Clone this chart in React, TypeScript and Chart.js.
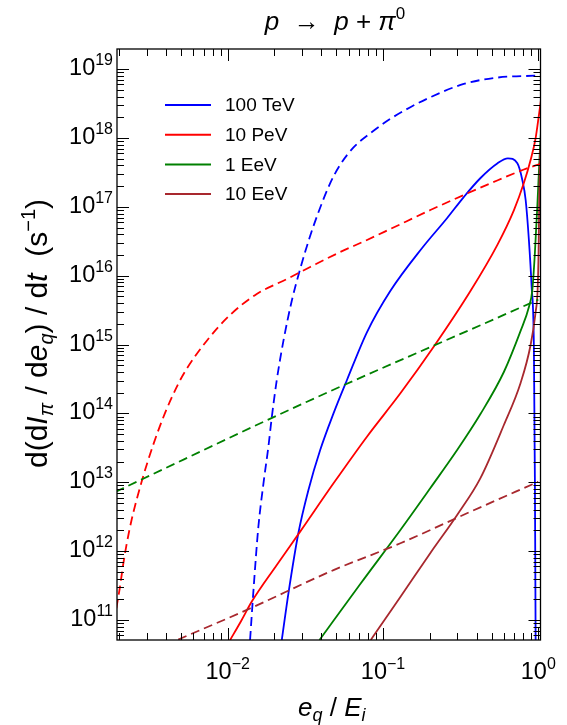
import React, { useEffect, useRef } from "react";
import { Chart, registerables } from "chart.js";

Chart.register(...registerables);

// ---------- data ----------
const seriesLabels = ["100 TeV", "10 PeV", "1 EeV", "10 EeV"];
const seriesColors = ["#0000FF", "#FF0000", "#008000", "#A8282E"];

// 100 TeV
const xTeVSolid = [0.0223, 0.0246, 0.0285, 0.0331, 0.0394, 0.048, 0.0586, 0.0789, 0.1114, 0.1786, 0.259, 0.331, 0.4246, 0.544, 0.637, 0.733, 0.789, 0.829, 0.8697, 0.905, 0.937, 0.9506, 0.961];
const yTeVSolid = [5.13e10, 2.44e11, 1.82e12, 7.73e12, 2.94e13, 1.0e14, 3.06e14, 1.52e15, 6.0e15, 2.53e16, 6.9e16, 1.39e17, 2.63e17, 4.27e17, 5.08e17, 4.3e17, 2.46e17, 1.26e17, 3.3e16, 7.1e15, 8.3e14, 1.07e13, 5.13e10];
const xTeVDash = [0.01393, 0.01478, 0.01575, 0.01697, 0.01828, 0.01923, 0.0207, 0.02284, 0.02588, 0.02958, 0.03361, 0.0384, 0.04571, 0.05302, 0.06459, 0.08278, 0.1115, 0.15, 0.2019, 0.3311, 0.5438, 0.985, 1.0];
const yTeVDash = [5.13e10, 3.56e11, 2.24e12, 9.44e12, 3.29e13, 8.87e13, 3.06e14, 1.13e15, 4.37e15, 1.36e16, 3.53e16, 8.37e16, 2.21e17, 4.1e17, 7.31e17, 1.175e18, 1.9e18, 2.81e18, 3.92e18, 6.11e18, 7.55e18, 8.07e18, 8.08e18];

// 10 PeV
const xPeVSolid = [0.01035, 0.0121, 0.01429, 0.0207, 0.02927, 0.048, 0.0788, 0.1294, 0.212, 0.3656, 0.544, 0.697, 0.807, 0.892, 0.961, 1.009, 1.05];
const yPeVSolid = [5.1e10, 9.35e10, 1.85e11, 6.3e11, 1.92e12, 9.66e12, 4.6e13, 1.96e14, 9.3e14, 6.0e15, 2.79e16, 9.0e16, 2.22e17, 4.8e17, 1.0e18, 2.16e18, 4.2e18];
const xPeVDash = [0.00182, 0.00192, 0.002019, 0.002121, 0.00223, 0.002404, 0.002787, 0.003311, 0.003939, 0.004797, 0.005437, 0.007317, 0.01035, 0.01538, 0.02404, 0.03398, 0.05302, 0.07499, 0.1114, 0.2018, 0.3311, 0.5438, 0.8075, 1.05];
const yPeVDash = [6e10, 1.48e11, 2.92e11, 6.3e11, 1.23e12, 2.83e12, 1.01e13, 3.48e13, 1.0e14, 2.68e14, 4.43e14, 1.13e15, 2.69e15, 5.43e15, 8.97e15, 1.34e16, 2.21e16, 3.14e16, 4.77e16, 9.0e16, 1.49e17, 2.42e17, 3.49e17, 4.27e17];

// 1 EeV
const xEeVSolid = [0.039, 0.0714, 0.1294, 0.2019, 0.3001, 0.424, 0.6, 0.769, 0.87, 0.915, 0.949, 0.985, 1.024, 1.042];
const yEeVSolid = [5.13e10, 3.33e11, 2.03e12, 8.26e12, 2.94e13, 9.8e13, 4.0e14, 1.58e15, 3.52e15, 6.2e15, 2.0e16, 9.95e16, 6.7e17, 1.3e18];
const xEeVDash = [0.0019, 0.00212, 0.0324, 0.571, 1.0];
const yEeVDash = [7.3e12, 8.2e12, 1.48e14, 2.57e15, 4.5e15];

// 10 EeV
const x10EeVSolid = [0.0834, 0.0961, 0.1293, 0.2019, 0.3001, 0.424, 0.6, 0.769, 0.892, 0.961, 0.9897, 1.0045, 1.0134, 1.027];
const y10EeVSolid = [5.13e10, 8.19e10, 2.16e11, 9.4e11, 3.35e12, 1.15e13, 6.79e13, 2.77e14, 9.86e14, 2.97e15, 6.2e15, 2.37e16, 1.26e17, 6.7e17];
const x10EeVDash = [0.0048, 0.01327, 0.048, 0.1294, 0.366, 1.0];
const y10EeVDash = [5.2e10, 1.4e11, 5.3e11, 1.3e12, 3.74e12, 1.02e13];

// axes
const X_MIN = 0.001937;
const X_MAX = 1.033;
const Y_MIN = 5.12e10;
const Y_MAX = 1.966e19;
const xMajorExponents = [-2, -1, 0];
const yMajorExponents = [11, 12, 13, 14, 15, 16, 17, 18, 19];

const FONT = '"Liberation Sans", Arial, Helvetica, sans-serif';

type Seg = { t: string; size: number; italic?: boolean; dy?: number };

function segFont(s: Seg) {
  return `${s.italic ? "italic " : ""}${s.size}px ${FONT}`;
}
function richWidth(ctx: CanvasRenderingContext2D, segs: Seg[]) {
  let w = 0;
  for (const s of segs) {
    ctx.font = segFont(s);
    w += ctx.measureText(s.t).width;
  }
  return w;
}
function drawRich(ctx: CanvasRenderingContext2D, segs: Seg[], x: number, y: number, align: "left" | "center" | "right") {
  const w = richWidth(ctx, segs);
  let cx = align === "left" ? x : align === "center" ? x - w / 2 : x - w;
  ctx.textAlign = "left";
  ctx.textBaseline = "alphabetic";
  for (const s of segs) {
    ctx.font = segFont(s);
    ctx.fillText(s.t, cx, y + (s.dy || 0));
    cx += ctx.measureText(s.t).width;
  }
}

function pts(xs: number[], ys: number[]) {
  return xs.map((x, i) => ({ x, y: ys[i] }));
}

const decorPlugin = {
  id: "decor",
  afterDatasetsDraw(chart: any) {
    const ctx: CanvasRenderingContext2D = chart.ctx;
    const { left, right, top, bottom } = chart.chartArea;
    const xs = chart.scales.x;
    const ys = chart.scales.y;
    ctx.save();
    ctx.strokeStyle = "#000";
    ctx.fillStyle = "#000";

    // ticks
    ctx.lineWidth = 1;
    const MAJ = 12, MIN = 7;
    for (let e = -3; e <= 0; e++) {
      for (let k = 1; k <= 9; k++) {
        const v = k * Math.pow(10, e);
        if (v < X_MIN || v > X_MAX) continue;
        const px = Math.round(xs.getPixelForValue(v)) + 0.5;
        const len = k === 1 ? MAJ : MIN;
        ctx.beginPath();
        ctx.moveTo(px, bottom);
        ctx.lineTo(px, bottom - len);
        ctx.moveTo(px, top);
        ctx.lineTo(px, top + len);
        ctx.stroke();
      }
    }
    for (let e = 10; e <= 19; e++) {
      for (let k = 1; k <= 9; k++) {
        const v = k * Math.pow(10, e);
        if (v < Y_MIN || v > Y_MAX) continue;
        const py = Math.round(ys.getPixelForValue(v)) + 0.5;
        const len = k === 1 ? MAJ : MIN;
        ctx.beginPath();
        ctx.moveTo(left, py);
        ctx.lineTo(left + len, py);
        ctx.moveTo(right, py);
        ctx.lineTo(right - len, py);
        ctx.stroke();
      }
    }

    // frame
    ctx.lineWidth = 1.3;
    ctx.strokeRect(left, top, right - left, bottom - top);

    // y tick labels
    for (const e of yMajorExponents) {
      const py = ys.getPixelForValue(Math.pow(10, e));
      drawRich(ctx, [
        { t: "10", size: 23.5 },
        { t: String(e), size: 16, dy: -10 },
      ], left - 4, py + 6, "right");
    }
    // x tick labels
    for (const e of xMajorExponents) {
      const px = xs.getPixelForValue(Math.pow(10, e));
      drawRich(ctx, [
        { t: "10", size: 23.5 },
        { t: e < 0 ? "\u2212" + String(-e) : String(e), size: 16, dy: -10 },
      ], px, 679, "center");
    }

    // x title
    drawRich(ctx, [
      { t: "e", size: 26, italic: true },
      { t: "q", size: 18, italic: true, dy: 5 },
      { t: " / ", size: 26 },
      { t: "E", size: 26, italic: true },
      { t: "i", size: 18, italic: true, dy: 5 },
    ], (left + right) / 2 + 3, 716, "center");

    // y title (rotated)
    ctx.save();
    ctx.translate(47, 333.5);
    ctx.rotate(-Math.PI / 2);
    drawRich(ctx, [
      { t: "d(d", size: 30 },
      { t: "I", size: 30, italic: true },
      { t: "\u03c0", size: 20, italic: true, dy: 6 },
      { t: " / d", size: 30 },
      { t: "e", size: 30, italic: true },
      { t: "q", size: 20, italic: true, dy: 6 },
      { t: ") / d", size: 30 },
      { t: "t", size: 30, italic: true },
      { t: "  (s", size: 30 },
      { t: "\u22121", size: 20, dy: -12 },
      { t: ")", size: 30 },
    ], 0, 0, "center");
    ctx.restore();

    // title
    drawRich(ctx, [
      { t: "p", size: 26, italic: true },
      { t: "  \u2192  ", size: 26 },
      { t: "p", size: 26, italic: true },
      { t: " + ", size: 26 },
      { t: "\u03c0", size: 26, italic: true },
      { t: "0", size: 17, dy: -11 },
    ], 335, 30, "center");

    // legend
    for (let i = 0; i < seriesLabels.length; i++) {
      const ly = 105 + i * 29.7;
      ctx.strokeStyle = seriesColors[i];
      ctx.lineWidth = 2;
      ctx.beginPath();
      ctx.moveTo(165, ly);
      ctx.lineTo(211, ly);
      ctx.stroke();
      ctx.fillStyle = "#000";
      ctx.font = `19px ${FONT}`;
      ctx.textAlign = "left";
      ctx.textBaseline = "middle";
      ctx.fillText(seriesLabels[i], 225, ly + 1);
    }
    ctx.restore();
  },
};

export default function App() {
  const ref = useRef<HTMLCanvasElement | null>(null);
  useEffect(() => {
    if (!ref.current) return;
    const mk = (xs: number[], ys: number[], color: string, dashed: boolean) => ({
      data: pts(xs, ys),
      borderColor: color,
      backgroundColor: color,
      borderWidth: 1.8,
      borderDash: dashed ? [9, 5] : [],
      pointRadius: 0,
      showLine: true,
      fill: false,
      cubicInterpolationMode: "monotone" as const,
    });
    const chart = new Chart(ref.current, {
      type: "scatter",
      data: {
        datasets: [
          mk(x10EeVDash, y10EeVDash, seriesColors[3], true),
          mk(xEeVDash, yEeVDash, seriesColors[2], true),
          mk(xPeVDash, yPeVDash, seriesColors[1], true),
          mk(xTeVDash, yTeVDash, seriesColors[0], true),
          mk(x10EeVSolid, y10EeVSolid, seriesColors[3], false),
          mk(xEeVSolid, yEeVSolid, seriesColors[2], false),
          mk(xPeVSolid, yPeVSolid, seriesColors[1], false),
          mk(xTeVSolid, yTeVSolid, seriesColors[0], false),
        ],
      },
      options: {
        responsive: false,
        animation: false,
        events: [],
        layout: { padding: { left: 117, right: 26.5, top: 49, bottom: 85 } },
        plugins: { legend: { display: false }, tooltip: { enabled: false }, title: { display: false } },
        scales: {
          x: { type: "logarithmic", min: X_MIN, max: X_MAX, display: false },
          y: { type: "logarithmic", min: Y_MIN, max: Y_MAX, display: false },
        },
      },
      plugins: [decorPlugin],
    });
    return () => chart.destroy();
  }, []);
  return (
    <div style={{ position: "absolute", left: 0, top: 0, width: 567, height: 725, background: "#fff" }}>
      <canvas ref={ref} width={567} height={725} style={{ display: "block" }} />
    </div>
  );
}
